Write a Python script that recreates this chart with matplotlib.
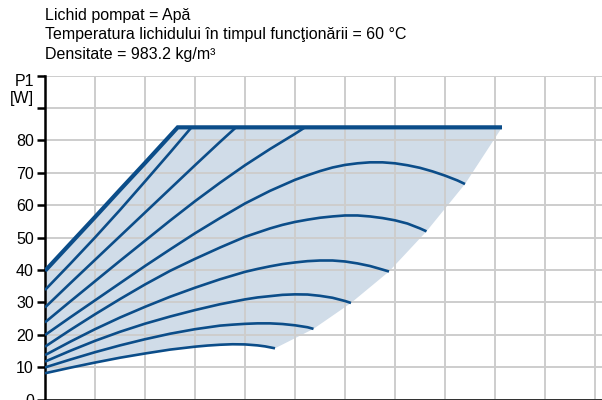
import matplotlib
matplotlib.use("Agg")
import matplotlib.pyplot as plt
import numpy as np

plt.rcParams['font.family'] = ['Liberation Sans', 'DejaVu Sans']

# ---- data (flow axis in grid units, P1 in W) ----
max_x = [0.0, 0.5, 1.0, 1.5, 2.0, 2.654, 9.14]
max_y = [39.7, 48.0, 56.3, 64.7, 73.0, 84.0, 84.0]

c1_x = [0.0, 0.5, 1.0, 1.5, 2.0, 2.5, 2.93]
c1_y = [33.8, 41.8, 50.0, 58.5, 67.3, 76.2, 84.0]

c2_x = [0.0, 0.5, 1.0, 1.5, 2.0, 2.5, 3.0, 3.5, 3.82]
c2_y = [28.4, 35.8, 43.1, 50.4, 57.7, 65.0, 72.3, 79.5, 84.0]

c3_x = [0.0, 0.5, 1.0, 1.5, 2.0, 2.5, 3.0, 3.5, 4.0, 4.5, 5.0, 5.2]
c3_y = [23.8, 30.2, 36.5, 42.8, 49.0, 55.2, 61.2, 66.9, 72.3, 77.3, 82.0, 84.0]

c4_x = [0.0, 0.5, 1.0, 1.5, 2.0, 2.5, 3.0, 3.5, 4.0, 4.5, 5.0, 5.25, 5.5, 5.75,
        6.0, 6.25, 6.5, 6.75, 7.0, 7.25, 7.5, 7.75, 8.0, 8.25, 8.4]
c4_y = [19.9, 25.3, 30.6, 35.9, 41.2, 46.3, 51.3, 56.0, 60.5, 64.4, 67.8, 69.2, 70.5, 71.6,
        72.4, 72.9, 73.2, 73.2, 72.9, 72.3, 71.5, 70.4, 69.1, 67.6, 66.5]

c5_x = [0.0, 0.5, 1.0, 1.5, 2.0, 2.5, 3.0, 3.5, 4.0, 4.5, 4.75, 5.0, 5.25, 5.5, 5.75,
        6.0, 6.25, 6.5, 6.75, 7.0, 7.25, 7.5, 7.63]
c5_y = [16.3, 21.4, 26.3, 31.0, 35.5, 39.7, 43.4, 46.9, 50.2, 52.8, 53.9, 54.8, 55.5, 56.1, 56.5,
        56.8, 56.8, 56.5, 56.0, 55.3, 54.3, 52.8, 51.9]

c6_x = [0.0, 0.5, 1.0, 1.5, 2.0, 2.5, 3.0, 3.5, 4.0, 4.25, 4.5, 4.75, 5.0, 5.25, 5.5,
        5.75, 6.0, 6.25, 6.5, 6.75, 6.88]
c6_y = [13.7, 17.8, 21.7, 25.3, 28.6, 31.7, 34.5, 37.1, 39.4, 40.3, 41.1, 41.8, 42.3, 42.7, 42.9,
        42.9, 42.6, 42.0, 41.2, 40.1, 39.5]

c7_x = [0.0, 0.5, 1.0, 1.5, 2.0, 2.5, 3.0, 3.5, 4.0, 4.25, 4.5, 4.75, 5.0, 5.25, 5.5,
        5.75, 6.0, 6.12]
c7_y = [11.7, 15.0, 18.1, 20.9, 23.4, 25.6, 27.6, 29.4, 30.9, 31.5, 31.9, 32.3, 32.45, 32.4, 32.0,
        31.4, 30.4, 29.8]

c8_x = [0.0, 0.5, 1.0, 1.5, 2.0, 2.5, 3.0, 3.5, 3.75, 4.0, 4.25, 4.5, 4.75, 5.0, 5.25, 5.37]
c8_y = [9.9, 12.3, 14.6, 16.7, 18.6, 20.3, 21.7, 22.8, 23.1, 23.35, 23.5, 23.5, 23.3, 22.9, 22.3, 21.8]

c9_x = [0.0, 0.5, 1.0, 1.5, 2.0, 2.5, 3.0, 3.25, 3.5, 3.75, 4.0, 4.25, 4.4, 4.6]
c9_y = [8.1, 9.8, 11.4, 12.9, 14.2, 15.4, 16.3, 16.65, 16.9, 17.05, 17.0, 16.7, 16.4, 15.8]

# right boundary of the operating area (top to bottom)
edge_x = [9.14, 8.4, 7.63, 6.88, 6.12, 5.37, 4.6]
edge_y = [84.0, 66.5, 51.9, 39.5, 29.8, 21.8, 15.8]

y_ticks = [0, 10, 20, 30, 40, 50, 60, 70, 80, 90, 100]
y_labels = ['0', '10', '20', '30', '40', '50', '60', '70', '80', '', '']

title_lines = ["Lichid pompat = Apă",
               "Temperatura lichidului în timpul funcţionării = 60 °C",
               "Densitate = 983.2 kg/m³"]

LINE = '#0b4d89'
FILL = '#d0dce8'
GRID = '#cdcdcd'
FS = 11.5

W, H = 602, 400
fig = plt.figure(figsize=(W / 100, H / 100), dpi=100)
ax_left, ax_bottom, ax_top = 45, 0.5, 75.5
ax = fig.add_axes([ax_left / W, ax_bottom / H, 1 - ax_left / W, (H - ax_bottom - ax_top) / H])

x_max = (W - ax_left) / 50.0
ax.set_xlim(0, x_max)
ax.set_ylim(0, 100)

# fill area
poly_x = list(max_x) + list(edge_x[1:]) + list(c9_x[::-1][1:])
poly_y = list(max_y) + list(edge_y[1:]) + list(c9_y[::-1][1:])
ax.fill(poly_x, poly_y, color=FILL, lw=0, zorder=1)

# grid
ax.set_axisbelow('line')
ax.set_xticks(np.arange(1, int(x_max) + 1))
ax.set_yticks(y_ticks)
ax.set_yticklabels(y_labels)
ax.grid(True, color=GRID, lw=1.4)
ax.tick_params(axis='x', length=0, labelbottom=False)
ax.tick_params(axis='y', direction='out', length=5.5, width=1.8, color='black',
               labelsize=FS, pad=2.5)

curves = [(c1_x, c1_y), (c2_x, c2_y), (c3_x, c3_y), (c4_x, c4_y), (c5_x, c5_y),
          (c6_x, c6_y), (c7_x, c7_y), (c8_x, c8_y), (c9_x, c9_y)]
for cx, cy in curves:
    ax.plot(cx, cy, color=LINE, lw=1.9, solid_capstyle='butt', zorder=3)
ax.plot(max_x, max_y, color=LINE, lw=3.0, solid_capstyle='butt', solid_joinstyle='miter', zorder=3.5)

for s in ['top', 'right']:
    ax.spines[s].set_visible(False)
ax.spines['left'].set_color('black')
ax.spines['left'].set_linewidth(1.8)
ax.spines['bottom'].set_color('black')
ax.spines['bottom'].set_linewidth(1.8)

# y-axis title
fig.text(34 / W, 1 - 82 / H, 'P1', ha='right', va='center', fontsize=FS)
fig.text(34 / W, 1 - 99 / H, '[W]', ha='right', va='center', fontsize=FS)

for i, t in enumerate(title_lines):
    fig.text(45 / W, 1 - (20 + 19.5 * i) / H, t, ha='left', va='baseline', fontsize=FS)

fig.savefig('out.png', dpi=100)
